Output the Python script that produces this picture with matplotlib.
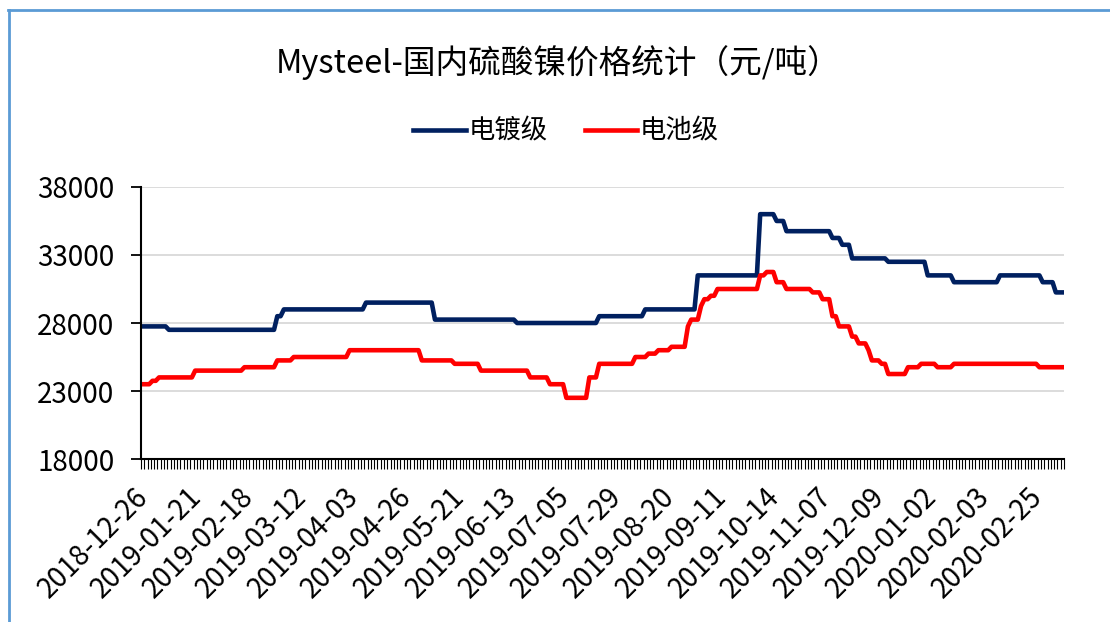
import numpy as np
import matplotlib
matplotlib.use('Agg')
import matplotlib.pyplot as plt
from matplotlib.lines import Line2D
from matplotlib.transforms import ScaledTranslation

plt.rcParams['font.family'] = ['Noto Sans CJK SC', 'DejaVu Sans']

# 数据（读图得到的阶梯价格：价格水平 + 持续的交易日数）
plating_levels = [27750, 27500, 28500, 29000, 29500, 28250, 28000, 28500, 29000, 31500,
                  36000, 35500, 34750, 34250, 33750, 32750, 32500, 31500, 31000, 31500,
                  31000, 30250]
plating_days = [8, 33, 2, 25, 21, 25, 25, 14, 16, 19,
                5, 3, 14, 3, 3, 11, 12, 8, 14, 13,
                4, 3]

battery_levels = [23500, 23750, 24000, 24500, 24750, 25250, 25500, 26000, 25250, 25000,
                  24500, 24000, 23500, 22500, 24000, 25000, 25500, 25750, 26000, 26250,
                  27750, 28250, 29250, 29750, 30000, 30500, 31500, 31750, 31000, 30500,
                  30250, 29750, 28500, 27750, 27000, 26500, 26000, 25250, 25000, 24250,
                  24750, 25000, 24750, 25000, 24750]
battery_days = [3, 2, 11, 15, 10, 5, 17, 22, 10, 8,
                15, 6, 5, 7, 3, 11, 4, 3, 4, 5,
                1, 3, 1, 2, 2, 13, 2, 3, 3, 8,
                3, 3, 2, 4, 2, 3, 1, 3, 2, 6,
                4, 5, 5, 26, 8]

tick_labels = ['2018-12-26', '2019-01-21', '2019-02-18', '2019-03-12', '2019-04-03',
               '2019-04-26', '2019-05-21', '2019-06-13', '2019-07-05', '2019-07-29',
               '2019-08-20', '2019-09-11', '2019-10-14', '2019-11-07', '2019-12-09',
               '2020-01-02', '2020-02-03', '2020-02-25']
label_step = 16

plating = np.repeat(plating_levels, plating_days)
battery = np.repeat(battery_levels, battery_days)
n = len(plating)
x = np.arange(n)

fig = plt.figure(figsize=(11.1, 6.22), dpi=100)
ax = fig.add_axes([0.127, 0.262, 0.8316, 0.4374])

ax.plot(x, plating, color='#002060', lw=3.3, label='电镀级', solid_joinstyle='round')
ax.plot(x, battery, color='#ff0000', lw=3.3, label='电池级', solid_joinstyle='round')

ax.set_xlim(-0.5, n - 0.5)
ax.set_ylim(18000, 38000)
ax.set_yticks(np.arange(18000, 38001, 5000))
ax.grid(axis='y', color='#d9d9d9', lw=1.3)
ax.set_axisbelow(True)

pos = np.arange(len(tick_labels)) * label_step
ax.set_xticks(pos)
ax.set_xticklabels(tick_labels, rotation=45, ha='right',
                   rotation_mode='anchor', fontsize=20)
ax.tick_params(axis='x', length=0, pad=10)
shift = ScaledTranslation(-0.09, -0.09, fig.dpi_scale_trans)
for lab in ax.get_xticklabels():
    lab.set_transform(lab.get_transform() + shift)
ax.set_xticks(np.arange(n + 1) - 0.5, minor=True)
ax.tick_params(axis='x', which='minor', length=7, width=0.8, color='black')
ax.tick_params(axis='y', length=7, width=1.3, pad=12, labelsize=20)

for s in ['top', 'right']:
    ax.spines[s].set_visible(False)
ax.spines['left'].set_linewidth(1.5)
ax.spines['bottom'].set_linewidth(1.5)

fig.text(0.503, 0.9, 'Mysteel-国内硫酸镍价格统计（元/吨）', ha='center', va='center', fontsize=23.5)
fig.legend(loc='center', bbox_to_anchor=(0.51, 0.789), ncol=2, frameon=False, fontsize=19,
           handlelength=2.0, handletextpad=0.1, columnspacing=1.4)

fig.add_artist(Line2D([0.0072, 1.0], [0.984, 0.984], color='#5b9bd5', lw=2))
fig.add_artist(Line2D([0.0081, 0.0081], [0.0, 0.984], color='#5b9bd5', lw=2))

fig.savefig('out.png', dpi=100)
